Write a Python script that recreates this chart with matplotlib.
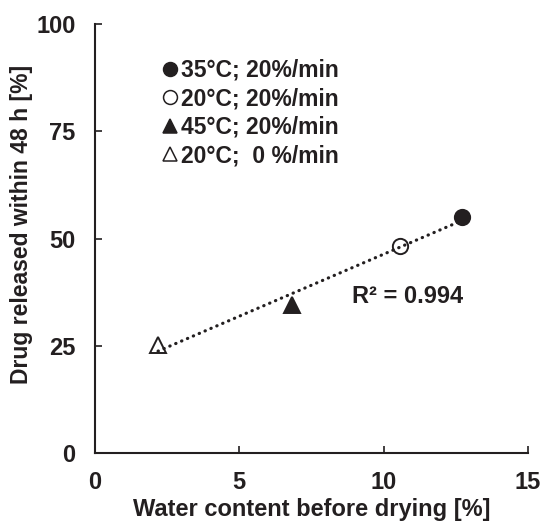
import numpy as np
import matplotlib.pyplot as plt
from matplotlib.lines import Line2D

plt.rcParams['font.family'] = ['Liberation Sans', 'DejaVu Sans']
plt.rcParams['font.weight'] = 'bold'

ink = '#231f20'

# data
water = [12.7, 10.57, 6.83, 2.19]
drug = [55.1, 48.3, 34.5, 25.2]
labels = ['35°C; 20%/min', '20°C; 20%/min', '45°C; 20%/min', '20°C;  0 %/min']
markers = ['o', 'o', '^', '^']
filled = [True, False, True, False]
r2_text = 'R² = 0.994'

fig = plt.figure(figsize=(5.42, 5.22), dpi=100)
ax = fig.add_axes([0.175, 0.132, 0.799, 0.822])

# linear trend line
k, b = np.polyfit(water, drug, 1)
xs = np.array([min(water), max(water)])
ax.plot(xs, k * xs + b, color=ink, lw=2.3, linestyle=(0, (0.1, 1.9)),
        dash_capstyle='round', zorder=1)

for x, y, m, f in zip(water, drug, markers, filled):
    ax.plot(x, y, marker=m, ms=11, color=ink, mew=1.4,
            mfc=ink if f else 'none', linestyle='none', zorder=3)

ax.text(8.9, 36.4, r2_text, fontsize=17, fontweight='bold', color=ink,
        va='center', ha='left')

handles = [Line2D([], [], marker=m, ms=10, color=ink, mew=1.1,
                  mfc=ink if f else 'none', linestyle='none')
           for m, f in zip(markers, filled)]
leg = ax.legend(handles, labels, loc='upper left', bbox_to_anchor=(0.125, 0.94),
                frameon=False, handletextpad=0.0, handlelength=1.0,
                labelspacing=0.24, borderaxespad=0,
                prop={'size': 16.5, 'weight': 'bold'})
for t in leg.get_texts():
    t.set_color(ink)

ax.set_xlim(0, 15)
ax.set_ylim(0, 100)
ax.set_xticks([0, 5, 10, 15])
ax.set_yticks([0, 25, 50, 75, 100])
for s in ['top', 'right']:
    ax.spines[s].set_visible(False)
for s in ['left', 'bottom']:
    ax.spines[s].set_linewidth(1.5)
    ax.spines[s].set_color(ink)
ax.tick_params(axis='both', direction='in', length=5, width=1.2, color=ink,
               labelsize=17, labelcolor=ink)
ax.tick_params(axis='y', pad=14)
ax.tick_params(axis='x', pad=13)

ax.set_xlabel('Water content before drying [%]', fontsize=17,
              fontweight='bold', color=ink, labelpad=3)
ax.set_ylabel('Drug released within 48 h [%]', fontsize=16.5,
              fontweight='bold', color=ink, labelpad=2)
ax.yaxis.label.set_y(0.534)

fig.savefig('out.png', dpi=100)
